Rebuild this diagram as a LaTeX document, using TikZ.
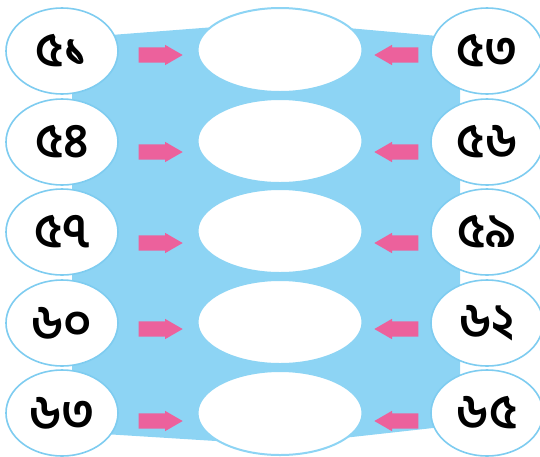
\documentclass[tikz,border=0pt]{standalone}
\usepackage{fontspec}
\newfontfamily\bengalifont[Script=Bengali]{Hind Siliguri}
\usepackage{tikz}
\usetikzlibrary{shapes.geometric,shapes.arrows}
\definecolor{SkyFill}{HTML}{8DD4F4}
\definecolor{SkyLine}{HTML}{7ECCF0}
\definecolor{ArrowPink}{HTML}{EC619C}
\tikzset{
  number node/.style={ellipse,draw=SkyLine,line width=1.6pt,fill=white,
    minimum width=112pt,minimum height=86pt,inner sep=0pt,
    font=\bengalifont\bfseries\fontsize{48}{52}\selectfont},
  answer node/.style={ellipse,draw=SkyFill,line width=2pt,fill=white,
    minimum width=165pt,minimum height=84pt,inner sep=0pt},
  pink arrow/.style={single arrow,fill=ArrowPink,draw=none,
    inner xsep=0pt,inner ysep=7.5pt,minimum height=44pt,
    single arrow head extend=2.5pt,single arrow tip angle=60}
}

\begin{document}
\begin{tikzpicture}[x=1pt,y=-1pt]
  \useasboundingbox (0,0) rectangle (540,456);
  % blue band behind the answer boxes
  \fill[SkyFill] (72,38) -- (280,22) -- (460,38) -- (460,425) -- (280,445) -- (72,432) -- cycle;

  \node[answer node] (answer1) at (280,50) {};
  \node[answer node] (answer2) at (280,141) {};
  \node[answer node] (answer3) at (280,231) {};
  \node[answer node] (answer4) at (280,322) {};
  \node[answer node] (answer5) at (280,413) {};

  \node[number node] (left1) at (62,51) {৫১};
  \node[number node] (left2) at (62,142) {৫৪};
  \node[number node] (left3) at (62,232) {৫৭};
  \node[number node] (left4) at (62,323) {৬০};
  \node[number node] (left5) at (62,413) {৬৩};

  \node[number node] (right1) at (487,51) {৫৩};
  \node[number node] (right2) at (487,142) {৫৬};
  \node[number node] (right3) at (487,232) {৫৯};
  \node[number node] (right4) at (487,323) {৬২};
  \node[number node] (right5) at (487,413) {৬৫};

  \node[pink arrow] (arrowL1) at (154,55) {};
  \node[pink arrow] (arrowL2) at (154,152) {};
  \node[pink arrow] (arrowL3) at (154,243) {};
  \node[pink arrow] (arrowL4) at (154,329) {};
  \node[pink arrow] (arrowL5) at (154,421) {};

  \node[pink arrow,shape border rotate=180] (arrowR1) at (403,55) {};
  \node[pink arrow,shape border rotate=180] (arrowR2) at (403,152) {};
  \node[pink arrow,shape border rotate=180] (arrowR3) at (403,243) {};
  \node[pink arrow,shape border rotate=180] (arrowR4) at (403,329) {};
  \node[pink arrow,shape border rotate=180] (arrowR5) at (403,421) {};
\end{tikzpicture}
\end{document}
